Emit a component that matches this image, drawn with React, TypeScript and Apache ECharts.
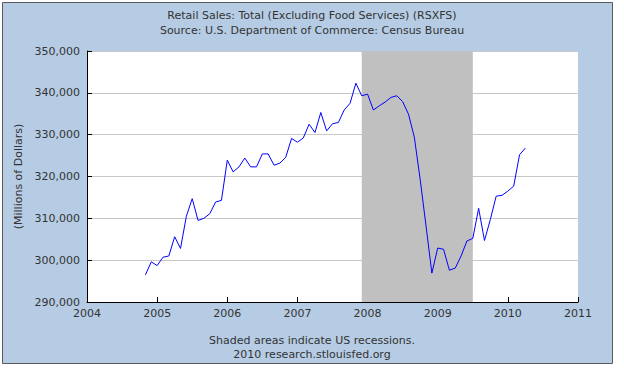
import React, { useEffect, useRef } from "react";
import * as echarts from "echarts";

const months: string[] = [
  "2004-11", "2004-12",
  "2005-01", "2005-02", "2005-03", "2005-04", "2005-05", "2005-06", "2005-07", "2005-08", "2005-09", "2005-10", "2005-11", "2005-12",
  "2006-01", "2006-02", "2006-03", "2006-04", "2006-05", "2006-06", "2006-07", "2006-08", "2006-09", "2006-10", "2006-11", "2006-12",
  "2007-01", "2007-02", "2007-03", "2007-04", "2007-05", "2007-06", "2007-07", "2007-08", "2007-09", "2007-10", "2007-11", "2007-12",
  "2008-01", "2008-02", "2008-03", "2008-04", "2008-05", "2008-06", "2008-07", "2008-08", "2008-09", "2008-10", "2008-11", "2008-12",
  "2009-01", "2009-02", "2009-03", "2009-04", "2009-05", "2009-06", "2009-07", "2009-08", "2009-09", "2009-10", "2009-11", "2009-12",
  "2010-01", "2010-02", "2010-03", "2010-04",
];

const retailSales: number[] = [
  296500, 299600,
  298700, 300700, 301000, 305600, 302800, 310500, 314700, 309500, 310000, 311100, 313900, 314300,
  323900, 321100, 322300, 324400, 322300, 322300, 325400, 325400, 322700, 323200, 324600, 329100,
  328200, 329200, 332500, 330500, 335300, 330900, 332600, 332900, 335900, 337500, 342300, 339300,
  339700, 335900, 336900, 337800, 338900, 339300, 337900, 334900, 329400, 319300, 308200, 296900,
  302900, 302600, 297600, 298100, 301000, 304600, 305200, 312400, 304700, 309700, 315300, 315500,
  316500, 317700, 325200, 326800,
];

const recessionStart = "2007-12";
const recessionEnd = "2009-07";

const yearTicks: number[] = [2004, 2005, 2006, 2007, 2008, 2009, 2010, 2011];

const titleText = "Retail Sales: Total (Excluding Food Services) (RSXFS)";
const sourceText = "Source: U.S. Department of Commerce: Census Bureau";
const noteText = "Shaded areas indicate US recessions.";
const creditText = "2010 research.stlouisfed.org";
const yAxisName = "(Millions of Dollars)";

const toYear = (m: string): number => {
  const [y, mo] = m.split("-").map(Number);
  return y + (mo - 1) / 12;
};

const FONT = "DejaVu Sans";

export default function App() {
  const ref = useRef<HTMLDivElement>(null);

  useEffect(() => {
    if (!ref.current) return;
    const chart = echarts.init(ref.current, undefined, { renderer: "svg" });
    const seriesData = months.map((m, i) => [toYear(m), retailSales[i]]);

    chart.setOption({
      animation: false,
      backgroundColor: "#ffffff",
      graphic: [
        {
          type: "rect",
          z: -10,
          silent: true,
          shape: { x: 2.5, y: 2.5, width: 610, height: 361 },
          style: { fill: "#b6cce4", stroke: "#5a5a5a", lineWidth: 1 },
        },
        {
          type: "rect",
          z: -9,
          silent: true,
          shape: { x: 87, y: 51, width: 491, height: 251 },
          style: { fill: "#ffffff" },
        },
      ],
      title: [
        {
          text: titleText,
          left: "center",
          top: 5,
          textStyle: { fontFamily: FONT, fontSize: 11, fontWeight: "normal", color: "#333333" },
        },
        {
          text: sourceText,
          left: "center",
          top: 20,
          textStyle: { fontFamily: FONT, fontSize: 11, fontWeight: "normal", color: "#333333" },
        },
        {
          text: noteText,
          left: "center",
          top: 330,
          textStyle: { fontFamily: FONT, fontSize: 11, fontWeight: "normal", color: "#333333" },
        },
        {
          text: creditText,
          left: "center",
          top: 344,
          textStyle: { fontFamily: FONT, fontSize: 11, fontWeight: "normal", color: "#333333" },
        },
      ],
      grid: { left: 87, right: 46, top: 51, bottom: 67, containLabel: false },
      xAxis: {
        type: "value",
        min: yearTicks[0],
        max: yearTicks[yearTicks.length - 1],
        interval: 1,
        axisLine: { show: true, lineStyle: { color: "#000000", width: 1 } },
        axisTick: { show: true, inside: true, length: 5, lineStyle: { color: "#000000" } },
        axisLabel: {
          fontFamily: FONT,
          fontSize: 11,
          color: "#333333",
          margin: 6,
          formatter: (v: number) => String(Math.round(v)),
        },
        splitLine: { show: false },
      },
      yAxis: {
        type: "value",
        min: 290000,
        max: 350000,
        interval: 10000,
        name: yAxisName,
        nameLocation: "middle",
        nameGap: 56,
        nameTextStyle: { fontFamily: FONT, fontSize: 11, color: "#333333" },
        axisLine: { show: true, lineStyle: { color: "#000000", width: 1 } },
        axisTick: { show: true, inside: true, length: 5, lineStyle: { color: "#000000" } },
        axisLabel: {
          fontFamily: FONT,
          fontSize: 11,
          color: "#333333",
          margin: 7,
          formatter: (v: number) => v.toLocaleString("en-US"),
        },
        splitLine: { show: true, lineStyle: { color: "#c8c8c8", width: 1 } },
      },
      series: [
        {
          type: "line",
          data: seriesData,
          showSymbol: false,
          symbol: "none",
          lineStyle: { color: "#0000ff", width: 1 },
          itemStyle: { color: "#0000ff" },
          markArea: {
            silent: true,
            itemStyle: { color: "#c0c0c0", opacity: 1 },
            data: [[{ xAxis: toYear(recessionStart) }, { xAxis: toYear(recessionEnd) }]],
          },
        },
      ],
    });

    return () => chart.dispose();
  }, []);

  return (
    <div
      ref={ref}
      style={{ position: "fixed", left: 0, top: 0, width: 624, height: 369 }}
    />
  );
}
